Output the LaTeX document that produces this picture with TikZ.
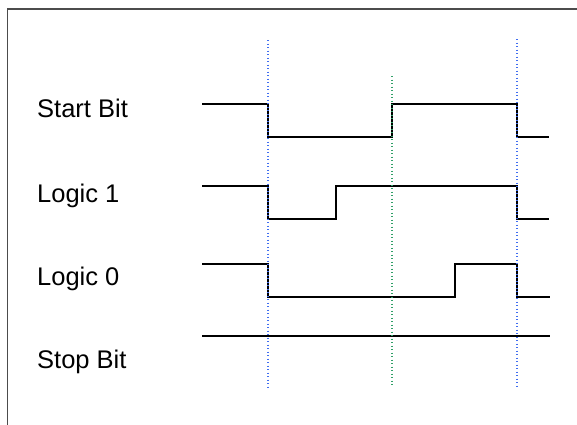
\documentclass[tikz,border=0pt]{standalone}
\usepackage{fontspec}
\setmainfont{Liberation Sans}
\usepackage[svgnames]{xcolor}
\usetikzlibrary{calc}
\definecolor{edgeblue}{RGB}{65,110,240}
\definecolor{edgegreen}{RGB}{50,160,105}
\tikzset{
    wave/.style={black, line width=1.6pt, line join=miter},
    edgeline/.style={line width=1.4pt, dash pattern=on 1.3pt off 2.2pt},
    siglabel/.style={anchor=base west, inner sep=0pt, font=\fontsize{25.5}{30}\selectfont}
}

\begin{document}
\begin{tikzpicture}[x=1pt,y=-1pt]
    \useasboundingbox (0,0) rectangle (577,424);
    % frame, only the top and left sides are in view
    \draw[gray!60!black, line width=1.6pt] (7.5,440) |- (600,9);

    % signal names
    \node[siglabel] (start) at (37,117) {Start Bit};
    \node[siglabel] (one)   at (37,202) {Logic 1};
    \node[siglabel] (zero)  at (37,285) {Logic 0};
    \node[siglabel] (stop)  at (37,368) {Stop Bit};

    % waveforms
    \draw[wave] (202,104) -| (268,137) -| (392,104) -| (517,137) -- (549,137);
    \draw[wave] (202,186) -| (268,219) -| (336,186) -| (517,219) -- (549,219);
    \draw[wave] (202,264) -| (268,297) -| (455,264) -| (517,297) -- (550,297);
    \draw[wave] (202,336) -- (550,336);

    % bit boundaries
    \draw[edgeline, edgeblue]  (268,40) -- (268,388);
    \draw[edgeline, edgegreen] (392,76) -- (392,386);
    \draw[edgeline, edgeblue]  (517,39) -- (517,387);
\end{tikzpicture}
\end{document}
